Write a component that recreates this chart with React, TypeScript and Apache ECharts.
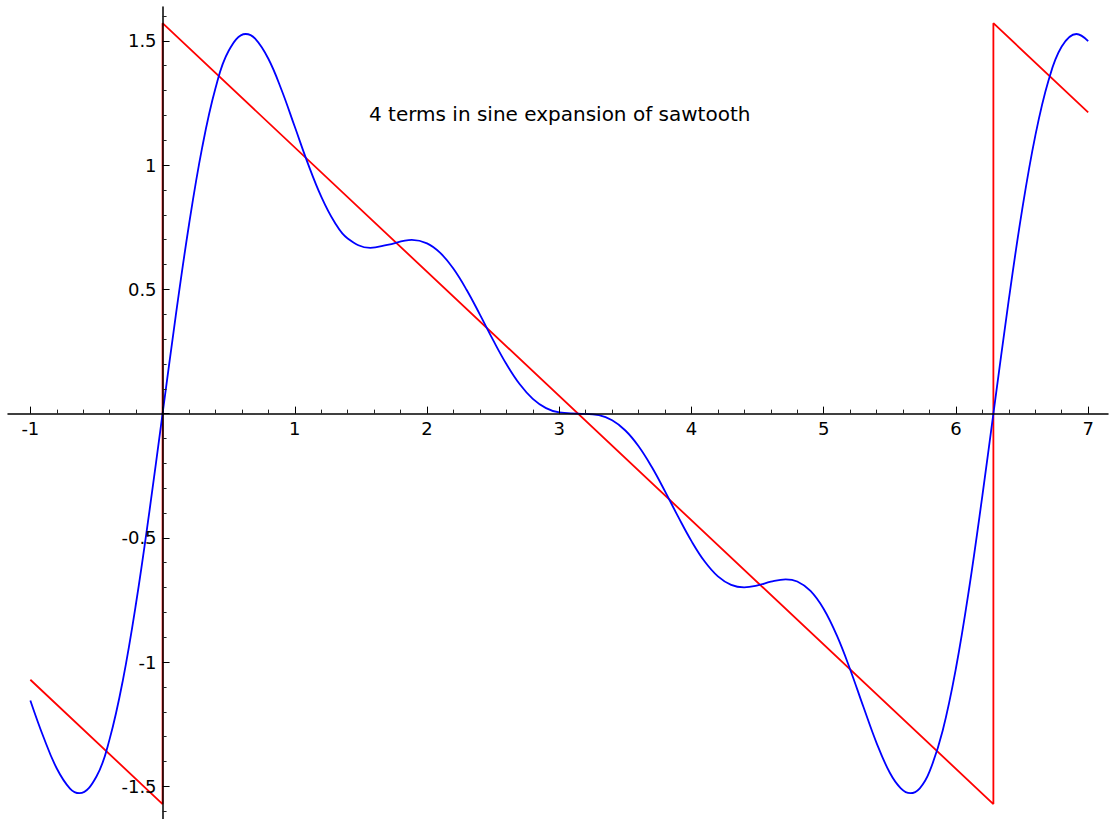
import React, { useEffect, useRef } from "react";
import * as echarts from "echarts";

const TITLE = "4 terms in sine expansion of sawtooth";

const X_TICKS = [-1, 0, 1, 2, 3, 4, 5, 6, 7];
const X_LABELS = [-1, 1, 2, 3, 4, 5, 6, 7];
const Y_TICKS = [-1.5, -1, -0.5, 0, 0.5, 1, 1.5];
const Y_LABELS = [-1.5, -1, -0.5, 0.5, 1, 1.5];

// Sawtooth (red)
const SAW_X = [-1, 0, 0, 6.2832, 6.2832, 7];
const SAW_Y = [-1.0708, -1.5708, 1.5708, -1.5708, 1.5708, 1.2124];

// 4-term sine expansion (blue), read about every 0.1 and at the turning points
const SINE_X = [
  -1.0, -0.9, -0.8, -0.7, -0.6283, -0.5, -0.4, -0.3, -0.2, -0.1,
  0.0, 0.1, 0.2, 0.3, 0.4, 0.5, 0.6283, 0.7, 0.8, 0.9,
  1.0, 1.1, 1.2, 1.3, 1.4, 1.5708, 1.7, 1.8850,
  2.0, 2.1, 2.2, 2.3, 2.4, 2.5, 2.6, 2.7, 2.8, 2.9,
  3.0, 3.1416, 3.3, 3.4, 3.5, 3.6, 3.7, 3.8, 3.9,
  4.0, 4.1, 4.2, 4.3, 4.3982, 4.5, 4.6, 4.7124, 4.8, 4.9,
  5.0, 5.1, 5.2, 5.3, 5.4, 5.5, 5.5833, 5.6549, 5.7266, 5.8, 5.9,
  6.0, 6.1, 6.2, 6.2832, 6.4, 6.5, 6.6, 6.7, 6.8, 6.9115,
  7.0,
];
const SINE_Y = [
  -1.15396, -1.30207, -1.42771, -1.50844, -1.52729, -1.45999, -1.30867, -1.07197, -0.76093, -0.39501,
  0.0, 0.39501, 0.76093, 1.07197, 1.30867, 1.45999, 1.52729, 1.50844, 1.42771, 1.30207,
  1.15396, 1.00498, 0.87322, 0.77119, 0.7046, 0.66667, 0.67882, 0.699,
  0.6851, 0.64667, 0.58278, 0.49739, 0.39836, 0.29567, 0.19966, 0.11907, 0.05942, 0.02223,
  0.00464, 0.0, -0.00647, -0.02699, -0.06787, -0.13125, -0.21494, -0.31274, -0.41556,
  -0.51296, -0.59519, -0.65496, -0.68904, -0.699, -0.69129, -0.67633, -0.66667, -0.67563, -0.7133,
  -0.78595, -0.89358, -1.02927, -1.17949, -1.3254, -1.44501, -1.50753, -1.52729, -1.50747, -1.4407, -1.27466,
  -1.02444, -0.7026, -0.32988, 0.0, 0.45935, 0.81769, 1.11737, 1.34025, 1.47677, 1.52729,
  1.4989,
];

const FONT = "DejaVu Sans";

// layout of the plotting box (pixels)
const W = 1110;
const H = 819;
const G_LEFT = 8;
const G_RIGHT = 2;
const G_TOP = 7;
const G_BOTTOM = 0;
const X_MIN = -1.169;
const X_MAX = 7.15;
const Y_MIN = -1.631;
const Y_MAX = 1.636;

export default function App() {
  const ref = useRef<HTMLDivElement>(null);

  useEffect(() => {
    if (!ref.current) return;
    const chart = echarts.init(ref.current, undefined, { renderer: "svg" });
    const saw = SAW_X.map((x, i) => [x, SAW_Y[i]]);
    const sine = SINE_X.map((x, i) => [x, SINE_Y[i]]);

    const gw = W - G_LEFT - G_RIGHT;
    const gh = H - G_TOP - G_BOTTOM;
    const zeroX = G_LEFT + ((0 - X_MIN) / (X_MAX - X_MIN)) * gw;
    const zeroY = G_TOP + ((Y_MAX - 0) / (Y_MAX - Y_MIN)) * gh;
    const xOffset = -(H - G_BOTTOM - zeroY);
    const yOffset = -(zeroX - G_LEFT);

    const option: any = {
      animation: false,
      backgroundColor: "#ffffff",
      grid: {
        left: G_LEFT,
        right: G_RIGHT,
        top: G_TOP,
        bottom: G_BOTTOM,
        containLabel: false,
        outerBoundsMode: "none",
      },
      xAxis: {
        type: "value",
        min: X_MIN,
        max: X_MAX,
        splitNumber: 8,
        position: "bottom",
        offset: xOffset,
        z: 5,
        axisLine: { onZero: false, lineStyle: { color: "#000", width: 1.5 } },
        axisTick: {
          inside: true,
          length: 7,
          customValues: X_TICKS,
          lineStyle: { color: "#000", width: 1 },
        },
        minorTick: { show: true, splitNumber: 5, length: 4, lineStyle: { color: "#222", width: 1 } },
        axisLabel: {
          customValues: X_LABELS,
          fontSize: 18,
          color: "#000",
          margin: 6,
          fontFamily: FONT,
        },
        splitLine: { show: false },
        minorSplitLine: { show: false },
      },
      yAxis: {
        type: "value",
        min: Y_MIN,
        max: Y_MAX,
        splitNumber: 7,
        position: "left",
        offset: yOffset,
        z: 5,
        axisLine: { onZero: false, lineStyle: { color: "#000", width: 1.5 } },
        axisTick: {
          inside: true,
          length: 7,
          customValues: Y_TICKS,
          lineStyle: { color: "#000", width: 1 },
        },
        minorTick: { show: true, splitNumber: 5, length: 4, lineStyle: { color: "#222", width: 1 } },
        axisLabel: {
          customValues: Y_LABELS,
          fontSize: 18,
          color: "#000",
          margin: 6,
          fontFamily: FONT,
        },
        splitLine: { show: false },
        minorSplitLine: { show: false },
      },
      graphic: [
        {
          type: "text",
          x: 559.7,
          y: 114,
          style: {
            text: TITLE,
            fill: "#000",
            font: `20px "${FONT}"`,
            textAlign: "center",
            textVerticalAlign: "middle",
          },
        },
      ],
      series: [
        {
          type: "line",
          data: saw,
          showSymbol: false,
          symbol: "none",
          lineStyle: { color: "#ff0000", width: 1.8 },
          z: 2,
        },
        {
          type: "line",
          data: sine,
          showSymbol: false,
          symbol: "none",
          smooth: 0.4,
          lineStyle: { color: "#0000ff", width: 1.8 },
          z: 3,
        },
      ],
    };
    chart.setOption(option);
    return () => chart.dispose();
  }, []);

  return (
    <div
      ref={ref}
      style={{ position: "absolute", left: 0, top: 0, width: W, height: H }}
    />
  );
}
